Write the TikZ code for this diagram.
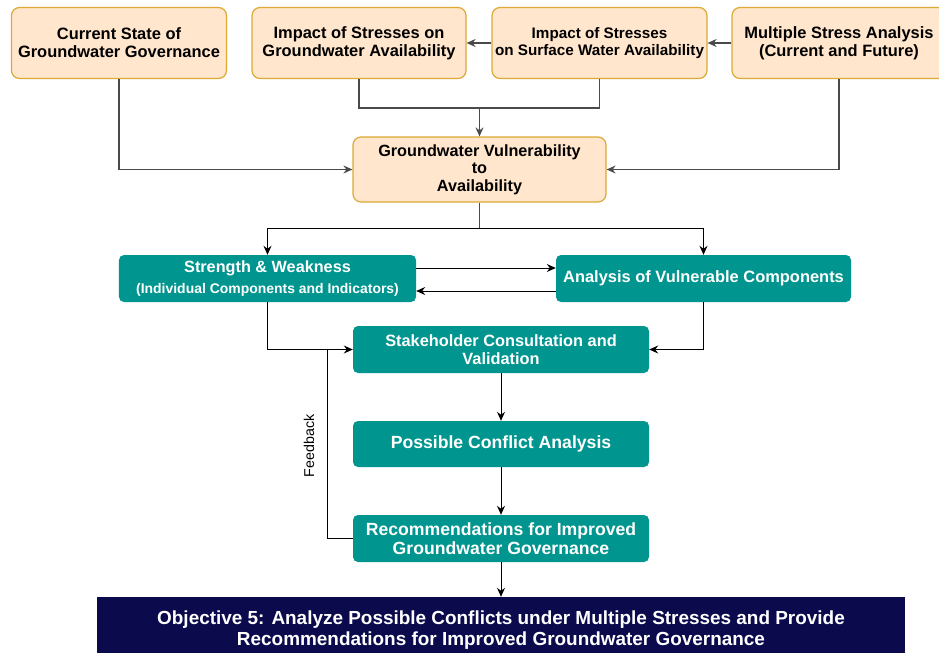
\documentclass[tikz,border=0pt]{standalone}
\usepackage{fontspec}
\setmainfont{Liberation Sans}
\usetikzlibrary{arrows.meta}
\definecolor{peach}{HTML}{FFE6CC}
\definecolor{peachline}{HTML}{DCA934}
\definecolor{tealfill}{HTML}{00968F}
\definecolor{navy}{HTML}{0A0A4D}
\definecolor{wire}{HTML}{4A4A4A}
\begin{document}
\begin{tikzpicture}[x=1bp,y=-1bp,
  orangebox/.style={draw=peachline, fill=peach, line width=1.2bp, rounded corners=8bp,
    align=center, inner sep=0pt, text=black,
    font=\bfseries\fontsize{16.5}{18}\selectfont},
  tealbox/.style={fill=tealfill, draw=none, rounded corners=5bp, align=center,
    inner sep=0pt, text=white},
  tip/.style={-{Stealth[length=9bp,width=8bp,inset=3bp]}},
  grayline/.style={draw=wire, line width=1.3bp},
  blackline/.style={draw=black, line width=1bp},
]
\useasboundingbox (0,0) rectangle (939,653);
\clip (0,0) rectangle (939,653);

% top row of stress inputs
\node[orangebox, minimum width=215bp, minimum height=71bp] (cur) at (119,43)
  {Current State of\\Groundwater Governance};
\node[orangebox, minimum width=214bp, minimum height=71bp] (gw) at (359,43)
  {Impact of Stresses on\\Groundwater Availability};
\node[orangebox, minimum width=215bp, minimum height=71bp,
  font=\bfseries\fontsize{15.3}{17}\selectfont] (sw) at (599.5,43)
  {Impact of Stresses\\on Surface Water Availability};
\node[orangebox, minimum width=214bp, minimum height=71bp] (mult) at (839,43)
  {Multiple Stress Analysis\\(Current and Future)};

% vulnerability synthesis
\node[orangebox, minimum width=253bp, minimum height=65bp,
  font=\bfseries\fontsize{16.3}{17.5}\selectfont] (vul) at (479.5,169.5)
  {Groundwater Vulnerability\\to\\Availability};

% analysis stage
\node[tealbox, minimum width=297bp, minimum height=47bp] (str) at (267.5,278.5)
  {{\bfseries\fontsize{16.3}{18}\selectfont Strength \& Weakness}\\[6bp]
   {\bfseries\fontsize{14}{16}\selectfont (Individual Components and Indicators)}};
\node[tealbox, minimum width=295bp, minimum height=47bp,
  font=\bfseries\fontsize{16.5}{18}\selectfont] (ana) at (703.5,278.5)
  {Analysis of Vulnerable Components};
\node[tealbox, minimum width=296bp, minimum height=47bp,
  font=\bfseries\fontsize{16.4}{17.5}\selectfont] (stk) at (501,349.5)
  {Stakeholder Consultation and\\Validation};
\node[tealbox, minimum width=296bp, minimum height=46bp,
  font=\bfseries\fontsize{17.7}{19}\selectfont] (con) at (501,444)
  {Possible Conflict Analysis};
\node[tealbox, minimum width=296bp, minimum height=47bp,
  font=\bfseries\fontsize{17.7}{18.5}\selectfont] (rec) at (501,538.5)
  {Recommendations for Improved\\Groundwater Governance};

% objective banner (runs off the lower edge)
\node[fill=navy, draw=none, minimum width=808bp, minimum height=66bp, inner sep=0pt,
  align=center, text=white, font=\bfseries\fontsize{19}{21}\selectfont] (obj) at (501,630)
  {Objective 5: Analyze Possible Conflicts under Multiple Stresses and Provide\\
   Recommendations for Improved Groundwater Governance};

\node[rotate=90, font=\fontsize{14.3}{16}\selectfont] (fb) at (309,446) {Feedback};

% junction points
\coordinate (jtop) at (479.5,108);
\coordinate (split) at (479.5,228);
\coordinate (fbtop) at (327,349.5);

% upper connectors
\draw[grayline, tip] (sw.west) -- (gw.east);
\draw[grayline, tip] (mult.west) -- (sw.east);
\draw[grayline] (gw.south) |- (jtop) -| (sw.south);
\draw[grayline, tip] (jtop) -- (vul.north);
\draw[grayline, tip] (cur.south) |- (vul.west);
\draw[grayline, tip] (mult.south) |- (vul.east);
\draw[grayline] (vul.south) -- (split);
\draw[blackline, tip] (split) -| (str.north);
\draw[blackline, tip] (split) -| (ana.north);

% lower connectors
\draw[blackline, tip] (str.east |- 0,268) -- (ana.west |- 0,268);
\draw[blackline, tip] (ana.west |- 0,291) -- (str.east |- 0,291);
\draw[blackline, tip] (str.south) |- (stk.west);
\draw[blackline, tip] (ana.south) |- (stk.east);
\draw[blackline] (rec.west) -| (fbtop);
\draw[blackline, tip] (stk.south) -- (con.north);
\draw[blackline, tip] (con.south) -- (rec.north);
\draw[blackline, tip] (rec.south) -- (obj.north);
\end{tikzpicture}
\end{document}
